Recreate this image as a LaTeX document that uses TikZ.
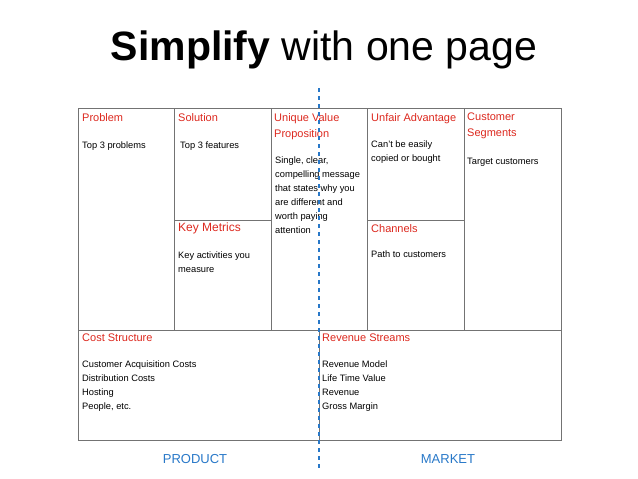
\documentclass[tikz,border=0pt]{standalone}
\usepackage{fontspec}
\setmainfont{Liberation Sans}
\definecolor{tred}{RGB}{220,40,30}
\definecolor{tblue}{RGB}{40,120,200}
\begin{document}
\begin{tikzpicture}[x=1pt,y=-1pt,
  cell/.style={draw=black!55,line width=0.8pt},
  ttl/.style={anchor=north west,text=tred,font=\fontsize{11}{16}\selectfont,align=left,inner sep=0pt},
  body/.style={anchor=north west,font=\fontsize{9.3}{14}\selectfont,align=left,inner sep=0pt}]
\useasboundingbox (0,0) rectangle (638,479);
\node[font=\fontsize{41}{46}\selectfont] (t) at (324,50) {\textbf{Simplify} with one page};
% grid
\draw[cell] (78,108) rectangle (561,440);
\draw[cell] (78,330) -- (561,330);
\foreach \x in {174,271,367,464} \draw[cell] (\x,108) -- (\x,330);
\draw[cell] (174,220) -- (271,220);
\draw[cell] (367,220) -- (464,220);
\draw[cell] (319,330) -- (319,440);
% texts
\node[ttl] (p) at (82,113) {Problem};
\node[body] at (82,142) {Top 3 problems};
\node[ttl] (s) at (178,113) {Solution};
\node[body] at (180,142) {Top 3 features};
\node[ttl] (u) at (274,113) {Unique Value\\Proposition};
\node[body] at (275,157) {Single, clear,\\compelling message\\that states why you\\are different and\\worth paying\\attention};
\node[ttl] (a) at (371,113) {Unfair Advantage};
\node[body] at (371,141) {Can't be easily\\copied or bought};
\node[ttl] (c) at (467,113) {Customer\\Segments};
\node[body] at (467,158) {Target customers};
\node[ttl,font=\fontsize{12}{16}\selectfont] (k) at (178,223) {Key Metrics};
\node[body] at (178,252) {Key activities you\\measure};
\node[ttl] (ch) at (371,224) {Channels};
\node[body] at (371,251) {Path to customers};
\node[ttl] (cs) at (82,334) {Cost Structure};
\node[body] at (82,361) {Customer Acquisition Costs\\Distribution Costs\\Hosting\\People, etc.};
\node[ttl] (r) at (322,334) {Revenue Streams};
\node[body] at (322,361) {Revenue Model\\Life Time Value\\Revenue\\Gross Margin};
% dashed line
\coordinate (d1) at (319,88);
\coordinate (d2) at (319,470);
\draw[tblue,line width=2.2pt,dash pattern=on 4pt off 4pt] (d1) -- (d2);
\node[text=tblue,font=\fontsize{13}{15}\selectfont] (pr) at (195,459) {PRODUCT};
\node[text=tblue,font=\fontsize{13}{15}\selectfont] (mk) at (448,459) {MARKET};
\end{tikzpicture}
\end{document}
